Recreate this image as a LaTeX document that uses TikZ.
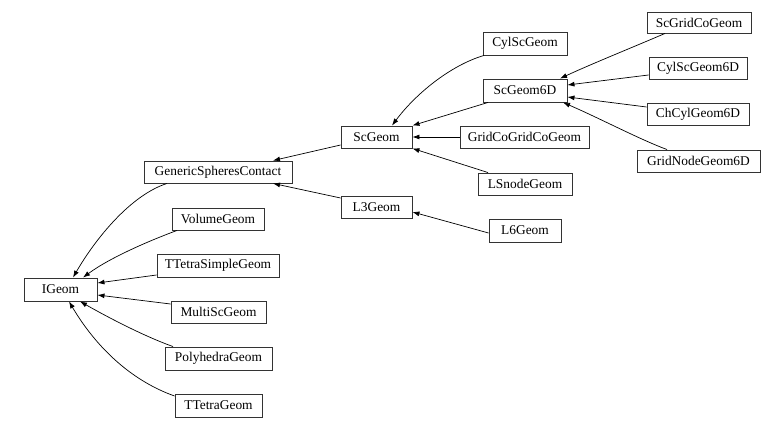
\documentclass[tikz,border=0pt]{standalone}
\usepackage{fontspec}
\setmainfont{Liberation Serif}
\usetikzlibrary{arrows.meta,calc}
\begin{document}
\begin{tikzpicture}[x=1pt,y=-1pt,
  cls/.style={draw=black!80,line width=0.9pt,rectangle,inner sep=0pt,minimum height=22pt,font=\fontsize{13.4}{15}\selectfont},
  inh/.style={draw=black,line width=0.7pt,-{Latex[length=7pt,width=5pt]}}]
\useasboundingbox (0,0) rectangle (784,427);
\node[cls,minimum width=73pt,minimum height=23pt] (ig) at (60.5,289.5) {IGeom};
\node[cls,minimum width=148pt] (gsc) at (218,172) {GenericSpheresContact};
\node[cls,minimum width=92pt] (vol) at (218,219) {VolumeGeom};
\node[cls,minimum width=122pt,minimum height=23pt] (tts) at (218,265.5) {TTetraSimpleGeom};
\node[cls,minimum width=95pt] (msc) at (218.5,312) {MultiScGeom};
\node[cls,minimum width=107pt,minimum height=23pt] (poly) at (218.5,358.5) {PolyhedraGeom};
\node[cls,minimum width=87pt,minimum height=23pt] (tt) at (218.5,405.5) {TTetraGeom};
\node[cls,minimum width=71pt] (sc) at (376.5,137) {ScGeom};
\node[cls,minimum width=71pt] (l3) at (376.5,207) {L3Geom};
\node[cls,minimum width=84pt,minimum height=23pt] (cyl) at (525,43.5) {CylScGeom};
\node[cls,minimum width=84pt,minimum height=23pt] (s6) at (525,90.5) {ScGeom6D};
\node[cls,minimum width=129pt] (gcg) at (524.5,137) {GridCoGridCoGeom};
\node[cls,minimum width=94pt] (lsn) at (525,184) {LSnodeGeom};
\node[cls,minimum width=72pt,minimum height=23pt] (l6) at (525,230.5) {L6Geom};
\node[cls,minimum width=104pt,minimum height=21pt] (sgc) at (699,22.5) {ScGridCoGeom};
\node[cls,minimum width=98pt] (cyl6) at (698,68) {CylScGeom6D};
\node[cls,minimum width=102pt] (ch6) at (698,114) {ChCylGeom6D};
\node[cls,minimum width=123pt] (gn6) at (698.5,161) {GridNodeGeom6D};
% edges to IGeom
\draw[inh] ($(gsc.south)+(-51,0)$) .. controls +(-37,12) and +(22,-38) .. ($(ig.north)+(12.5,0)$);
\draw[inh] ($(vol.south)+(-41,0)$) .. controls +(-27,10) and +(27,-20) .. ($(ig.north)+(22.5,0)$);
\draw[inh] ($(tts.west)+(0,9.5)$) -- ($(ig.east)+(0,-6.5)$);
\draw[inh] ($(msc.west)+(0,-8)$) -- ($(ig.east)+(0,5.5)$);
\draw[inh] ($(poly.north)+(-45.5,0)$) .. controls +(-28,-10) and +(30,17) .. ($(ig.south)+(19.5,0)$);
\draw[inh] ($(tt.west)+(0,-9.5)$) .. controls +(-45,-16) and +(26,44) .. ($(ig.south)+(8.5,0)$);
% edges to GenericSpheresContact
\draw[inh] ($(sc.west)+(0,8)$) -- ($(gsc.north)+(55,0)$);
\draw[inh] ($(l3.west)+(0,-9)$) -- ($(gsc.south)+(55,0)$);
% edges to ScGeom
\draw[inh] ($(cyl.south)+(-41,0)$) .. controls +(-34,10) and +(23,-31) .. ($(sc.north)+(15.5,0)$);
\draw[inh] ($(s6.south)+(-37,0)$) -- (sc.north east);
\draw[inh] (gcg.west) -- (sc.east);
\draw[inh] ($(lsn.north)+(-37,0)$) -- (sc.south east);
% L6 -> L3
\draw[inh] ($(l6.west)+(0,2.5)$) -- ($(l3.east)+(0,5)$);
% edges to ScGeom6D
\draw[inh] ($(sgc.south)+(-34,0)$) .. controls +(-35,15) and +(30,-14) .. ($(s6.north)+(35,0)$);
\draw[inh] ($(cyl6.west)+(0,7)$) -- ($(s6.east)+(0,-5.5)$);
\draw[inh] ($(ch6.west)+(0,-7)$) -- ($(s6.east)+(0,6.5)$);
\draw[inh] ($(gn6.north)+(-31.5,0)$) .. controls +(-27,-10) and +(37,16) .. ($(s6.south)+(38,0)$);
\end{tikzpicture}
\end{document}
